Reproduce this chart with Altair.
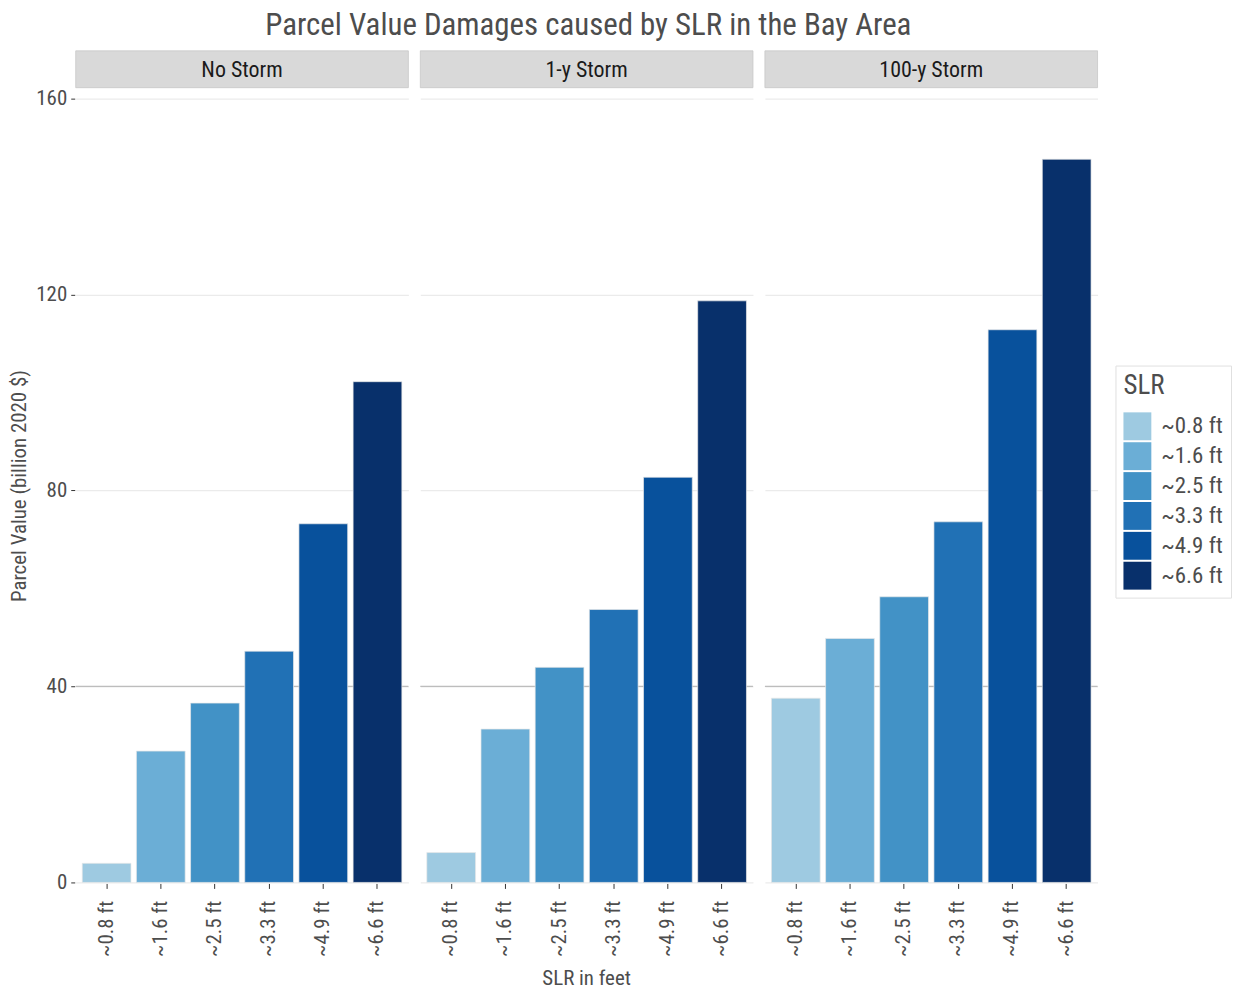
import altair as alt
import pandas as pd

storms = ["No Storm", "1-y Storm", "100-y Storm"]
slr_levels = ["~0.8 ft", "~1.6 ft", "~2.5 ft", "~3.3 ft", "~4.9 ft", "~6.6 ft"]
no_storm = [3.9, 26.8, 36.6, 47.2, 73.2, 102.2]
one_year = [6.1, 31.3, 43.9, 55.7, 82.7, 118.7]
hundred_year = [37.6, 49.8, 58.3, 73.6, 112.8, 147.6]
colors = ["#9ecae1", "#6baed6", "#4292c6", "#2171b5", "#08519c", "#08306b"]
y_ticks = [0, 40, 80, 120, 160]

rows = []
for storm, vals in zip(storms, [no_storm, one_year, hundred_year]):
    for s, v in zip(slr_levels, vals):
        rows.append({"storm": storm, "slr": s, "value": v})
df = pd.DataFrame(rows)

FONT = "Roboto Condensed, Liberation Sans Narrow, DejaVu Sans Condensed, Roboto, sans-serif"
W, H = 334, 797
TXT = "#4d4d4d"

x_enc = alt.X(
    "slr:N", sort=slr_levels,
    scale=alt.Scale(paddingInner=0.1, paddingOuter=0.12),
    axis=alt.Axis(title=None, labelAngle=270, labelFontSize=21, labelColor=TXT,
                  labelFont=FONT, labelPadding=12, tickSize=5, tickColor="#333333",
                  domain=False, grid=False, labelBaseline="middle", labelAlign="right"),
)
y_enc = alt.Y(
    "value:Q",
    scale=alt.Scale(domain=[0, 162], nice=False, zero=True),
    axis=alt.Axis(values=y_ticks, title="Parcel Value (billion 2020 $)", titleFontSize=21,
                  titleFont=FONT, titleColor=TXT, titleFontWeight="normal", titlePadding=6,
                  labelFontSize=21, labelFont=FONT, labelColor=TXT, labelPadding=4,
                  tickSize=4, tickColor="#333333", domain=False, grid=True,
                  gridColor="#ebebeb", gridWidth=1.3),
)

ref_rule = alt.Chart().mark_rule(color="#bdbdbd", strokeWidth=1.2).encode(
    y=alt.datum(40)
).transform_filter(alt.datum.slr == slr_levels[0])

bars = alt.Chart().mark_bar(stroke="#e8e8e8", strokeWidth=0.7).encode(
    x=x_enc,
    y=y_enc,
    color=alt.Color(
        "slr:N", sort=slr_levels,
        scale=alt.Scale(domain=slr_levels, range=colors),
        legend=alt.Legend(title="SLR", titleFontSize=27, titleFont=FONT, titleColor=TXT,
                          titleFontWeight="normal", labelFontSize=23, labelFont=FONT,
                          labelColor=TXT, symbolType="square", symbolSize=784,
                          symbolStrokeWidth=0, symbolOpacity=1, rowPadding=2,
                          strokeColor="#e0e0e0", padding=8, orient="none",
                          legendX=1044, legendY=278, titlePadding=12, labelOffset=10),
    ),
)

strip_rect = alt.Chart().mark_rect(fill="#d9d9d9", stroke="#c8c8c8", strokeWidth=0.8).encode(
    x=alt.value(0), x2=alt.value(W), y=alt.value(-38), y2=alt.value(-1)
).transform_filter(alt.datum.slr == slr_levels[0])

strip_text = alt.Chart().mark_text(fontSize=22, font=FONT, color="#1a1a1a",
                                   baseline="middle", align="center").encode(
    x=alt.value(W / 2), y=alt.value(-19), text="storm:N"
).transform_filter(alt.datum.slr == slr_levels[0])

layered = alt.layer(ref_rule, bars, strip_rect, strip_text).properties(width=W, height=H)

chart = layered.facet(
    column=alt.Column("storm:N", sort=storms,
                      header=alt.Header(labels=False, title="SLR in feet", titleOrient="bottom",
                                        titleFontSize=21, titleFont=FONT, titleColor=TXT,
                                        titleFontWeight="normal", titlePadding=1)),
    data=df,
    spacing=10,
).properties(
    title=alt.TitleParams("Parcel Value Damages caused by SLR in the Bay Area", fontSize=31,
                          font=FONT, color=TXT, fontWeight="normal", anchor="middle",
                          offset=8, dx=-32),
    padding=0,
).configure_view(stroke=None)

chart.save("out.html", embed_options={"renderer": "svg", "actions": False})
